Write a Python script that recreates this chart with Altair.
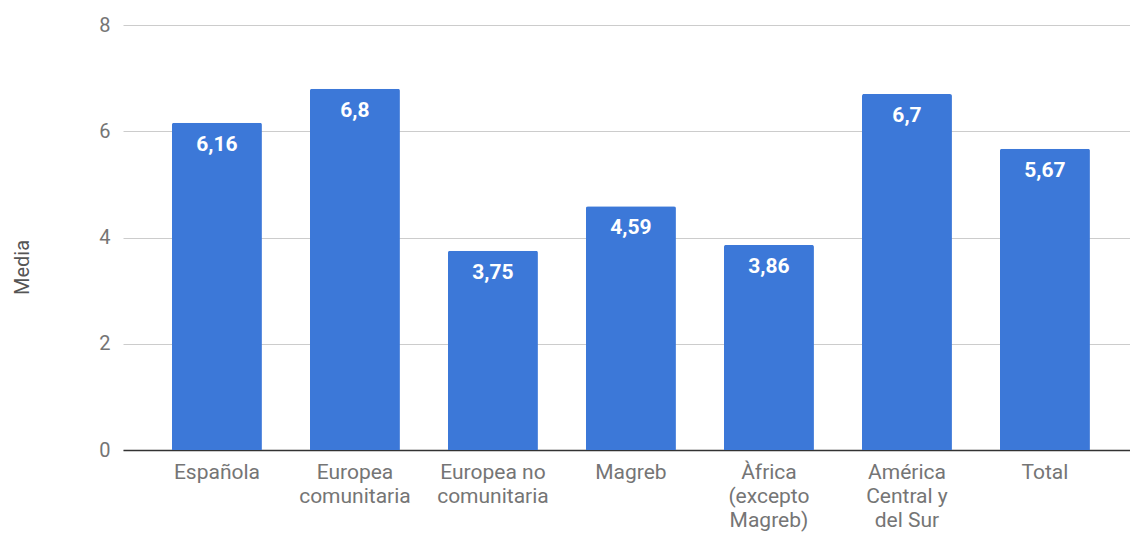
import altair as alt
import pandas as pd

categories = [
    "Española",
    "Europea|comunitaria",
    "Europea no|comunitaria",
    "Magreb",
    "Àfrica|(excepto|Magreb)",
    "América|Central y|del Sur",
    "Total",
]
values = [6.16, 6.8, 3.75, 4.59, 3.86, 6.7, 5.67]
value_labels = ["6,16", "6,8", "3,75", "4,59", "3,86", "6,7", "5,67"]
y_ticks = [0, 2, 4, 6, 8]

df = pd.DataFrame({"cat": categories, "val": values, "lab": value_labels})

FONT = "Roboto"

x = alt.X(
    "cat:N",
    sort=categories,
    title=None,
    scale=alt.Scale(paddingInner=0.348, paddingOuter=0.3225, align=0.55),
    axis=alt.Axis(
        labelExpr="split(datum.label, '|')",
        labelAngle=0,
        labelFont=FONT,
        labelFontSize=21,
        labelColor="#757575",
        labelLineHeight=24,
        labelPadding=11,
        labelBaseline="top",
        ticks=False,
        domainColor="#333333",
        domainWidth=1.5,
        labelLimit=200,
    ),
)
y = alt.Y(
    "val:Q",
    title="Media",
    scale=alt.Scale(domain=[0, 8], nice=False),
    axis=alt.Axis(
        values=y_ticks,
        labelFont=FONT,
        labelFontSize=20,
        labelColor="#757575",
        labelPadding=13,
        ticks=False,
        domain=False,
        gridColor="#cccccc",
        gridWidth=1,
        titleFont=FONT,
        titleFontSize=20,
        titleFontWeight="normal",
        titleColor="#555555",
        titleX=-91,
        titleY=242,
        titleAngle=-90,
        titleAlign="center",
        titleBaseline="bottom",
    ),
)

bars = alt.Chart(df).mark_bar(
    color="#3c78d8", cornerRadiusTopLeft=2, cornerRadiusTopRight=2
).encode(x=x, y=y)

text = alt.Chart(df).mark_text(
    baseline="top", dy=11, color="white", font=FONT, fontSize=21, fontWeight="bold"
).encode(x=alt.X("cat:N", sort=categories), y="val:Q", text="lab:N")

chart = (
    alt.layer(bars, text)
    .properties(
        width=1007,
        height=425,
        autosize=alt.AutoSizeParams(type="none"),
        padding={"left": 123, "top": 25, "right": 0, "bottom": 83},
        background="white",
    )
    .configure_view(stroke=None)
)

chart.save("out.html", embed_options={"renderer": "svg", "actions": False})
